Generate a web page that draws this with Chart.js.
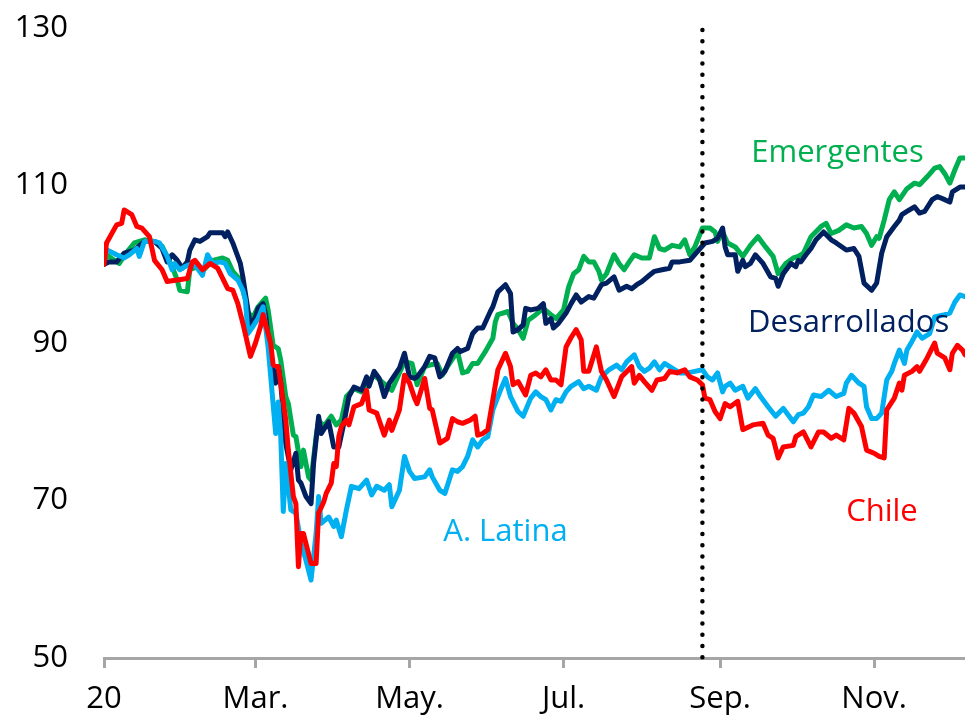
<!DOCTYPE html>
<html>
<head>
<meta charset="utf-8">
<script src="https://cdn.jsdelivr.net/npm/chart.js@4.4.1/dist/chart.umd.min.js"></script>
<style>
  html, body { margin: 0; padding: 0; background: #fff; }
  canvas { display: block; }
</style>
</head>
<body>
<canvas id="grafico" width="965" height="718"></canvas>
<script>
// dias desde el 1 de enero de 2020 y nivel del indice (base 100)
const diasTicks = [0, 60, 121, 182, 244, 305];
const etiquetasX = ['20', 'Mar.', 'May.', 'Jul.', 'Sep.', 'Nov.'];
const ticksY = [50, 70, 90, 110, 130];
const diaMarca = 237; // linea punteada vertical

const chile = [[0,100],[1,102.7],[5,105],[7,105.2],[8,106.9],[11,106.3],[13,104.8],[15,104.6],[18,103.5],[20,100.5],[23,99.3],[25,97.8],[29,98],[33,98.2],[35,100.3],[36,100.5],[39,99.3],[42,100.1],[45,99.5],[49,96.9],[51,96.7],[53,95],[55,92.5],[58,88.3],[60,90],[62,92.1],[63,93.6],[66,90],[67,87.2],[69,87],[70,84.9],[72,80.2],[73,76.4],[75,70.5],[76,69.6],[77,61.6],[78,65.8],[79,65.8],[82,62],[84,62],[85,68.4],[87,69.8],[88,70.9],[90,72.2],[91,74.7],[92,74.3],[93,78.1],[94,79.4],[96,80.2],[97,79.6],[99,81.9],[102,82.3],[104,84],[105,81.5],[108,81.1],[111,78.3],[113,80.2],[114,78.9],[117,81.5],[119,85.9],[121,84.9],[123,83],[124,82.3],[127,85.5],[129,81.7],[130,81.5],[133,77.3],[136,77.9],[138,80.4],[140,80],[142,79.8],[145,80.2],[147,80.7],[148,78.3],[150,78.5],[152,79],[154,82.8],[156,86.6],[159,88.7],[161,87],[162,84.7],[164,85.1],[167,83.4],[169,85.9],[171,86.2],[173,85.7],[175,86.6],[177,85.3],[179,85.3],[181,84.7],[183,89.5],[185,90.7],[187,91.7],[189,90.4],[190,86.4],[192,86.4],[195,89.5],[197,86.4],[199,85.3],[202,83.2],[205,85.7],[209,87],[210,84.9],[212,85.9],[214,85.1],[217,84],[219,85.3],[222,85.5],[224,86.4],[227,86.2],[230,86.6],[232,85.7],[235,85.3],[237,84.7],[238,83],[240,82.8],[242,81.3],[244,80.4],[246,82.3],[248,81.9],[251,82.6],[253,79],[257,79.6],[261,79.8],[263,78.3],[265,77.9],[267,75.4],[269,76.8],[273,77],[274,78.1],[277,78.7],[280,76.8],[283,78.7],[285,78.7],[288,77.9],[290,78.3],[293,77.7],[295,81.7],[297,81.1],[300,79.4],[302,76.4],[305,76],[307,75.6],[309,75.4],[310,81.5],[313,83],[315,84.9],[316,84],[317,85.9],[320,86.4],[322,87],[323,86.4],[326,88.1],[329,90],[330,88.7],[333,88.1],[335,86.6],[336,88.7],[338,89.7],[340,89.1],[341,88.5]];

const latina = [[0,102],[5,101.2],[8,100.8],[10,101.2],[13,102],[14,101],[16,102.9],[20,102.9],[22,102.7],[24,101.6],[25,101],[27,99.3],[28,100.1],[30,99.3],[32,99.7],[35,100.1],[37,99.5],[39,98.6],[41,101.2],[43,100.1],[46,100.3],[48,100.1],[50,98.8],[53,98],[55,96.7],[56,95.5],[57,91.2],[59,92.1],[61,93.1],[63,94.6],[65,89.5],[68,78.5],[69,82.5],[70,78.1],[71,68.6],[72,74.7],[74,68.8],[76,68.4],[78,64.6],[80,62.4],[82,59.9],[84,65.8],[85,70.5],[86,67.1],[89,67.9],[91,66.7],[92,67.5],[94,65.4],[96,68.8],[98,71.8],[101,71.5],[104,72.6],[106,70.7],[108,71.8],[111,71.3],[113,72],[114,69.2],[117,71.3],[119,75.6],[121,73.7],[123,72.8],[127,73],[129,73.9],[130,73],[133,71.3],[135,70.9],[138,73.9],[140,73.7],[142,74.3],[144,75.6],[146,77.7],[148,76.8],[150,77.7],[152,78.1],[154,81.5],[157,84],[159,85.5],[161,83.2],[164,81.3],[166,80.7],[169,83],[171,83.8],[173,83.2],[175,82.8],[177,81.5],[179,82.8],[181,82.6],[183,83.8],[185,84.5],[188,85.1],[190,84.2],[192,84.5],[195,84],[197,85.7],[200,86.6],[203,87.2],[205,86.6],[207,87.6],[210,88.5],[212,87],[214,86.4],[216,86.8],[218,87.6],[220,86.6],[222,87.4],[225,86.8],[228,86.2],[231,86.2],[234,86.4],[237,86.6],[239,85.7],[241,85.3],[243,86.2],[245,83.8],[246,84.5],[248,84.9],[250,84],[253,84.5],[255,83],[258,84.2],[260,83.2],[263,81.9],[266,80.7],[269,81.7],[273,80],[275,80.9],[277,81.1],[279,81.9],[281,83.4],[284,83.2],[287,84],[290,83.2],[293,83.6],[294,84.9],[296,85.9],[299,84.9],[301,84.5],[302,81.9],[304,80.4],[306,80.4],[308,81.1],[310,85.3],[312,86.4],[313,87.4],[315,89.1],[317,87.4],[318,89.1],[320,90.2],[322,91.4],[324,90.6],[327,91.2],[329,93.3],[333,93.6],[335,93.8],[337,95.2],[339,96.1],[341,95.9]];

const emergentes = [[0,100],[1,101.2],[6,100.1],[9,101.5],[12,102.7],[16,103.1],[20,102.9],[23,102.3],[25,101],[27,99.7],[29,98],[30,96.7],[33,96.5],[34,99.3],[37,99.7],[39,99.1],[43,100.5],[47,100.8],[49,100.5],[51,99.1],[54,98],[56,95.5],[57,93.8],[59,93.3],[61,94.6],[64,95.7],[65,94.2],[67,89.7],[69,89.3],[70,87.8],[72,83.2],[73,82.3],[75,78.3],[76,78.1],[78,74.3],[79,76.4],[81,73],[82,72.6],[84,78.1],[85,80.2],[87,79.4],[90,80.7],[92,79.6],[94,80.2],[96,83.2],[99,84.2],[102,83.8],[104,84.9],[107,85.9],[110,85.1],[114,84],[117,86.2],[119,87.6],[122,87.4],[124,84.7],[127,87],[129,87.2],[132,87.4],[134,85.9],[136,87],[140,88.9],[142,86.2],[144,86.4],[146,87.4],[148,87.4],[151,88.9],[154,90.6],[155,92.7],[156,93.6],[160,94],[162,92.5],[164,91.7],[166,90.6],[168,92.9],[171,93.6],[174,94.4],[177,93.6],[179,93.1],[182,94.2],[184,97.1],[186,98.8],[188,99.3],[190,101],[192,100.3],[194,100.3],[196,99.1],[197,98],[199,98.8],[202,101.2],[204,100.1],[206,99.3],[208,100.3],[210,101.2],[213,100.8],[216,100.8],[218,103.5],[220,102],[222,101.8],[225,102.4],[228,102.2],[230,103.1],[232,101.2],[234,102.2],[237,104.6],[240,104.6],[242,104.1],[243,102.9],[245,104.1],[247,102.7],[250,102.2],[253,101],[256,102.4],[259,103.5],[262,102.2],[265,101],[267,98.8],[270,100.1],[273,100.8],[275,101],[277,101.4],[280,103.5],[284,104.8],[286,105.2],[288,103.9],[291,104.3],[294,105],[297,104.6],[300,104.8],[302,103.9],[304,102.4],[306,103.5],[307,103.3],[309,105.6],[311,108.2],[313,109.2],[315,108.2],[318,109.6],[321,110.3],[323,110.1],[326,111.1],[329,112.2],[331,112.4],[333,111.5],[335,110.3],[337,112],[339,113.5],[341,113.5]];

const desarrollados = [[0,100],[2,100.3],[5,100.3],[8,101.4],[12,101.8],[16,102.9],[20,102.9],[23,102],[25,100.3],[27,101.2],[29,100.5],[31,99.5],[33,100.3],[34,101.8],[36,103.1],[38,102.9],[41,103.5],[42,104],[47,104],[48,103.5],[49,104.1],[51,102.7],[54,100.1],[55,98.4],[57,94.2],[58,92.1],[60,93.3],[61,94.4],[63,95],[64,93.6],[66,87.8],[68,84.9],[69,87],[70,84.9],[72,77.2],[74,73.9],[76,76],[77,72.6],[78,72.2],[80,70.5],[82,69.6],[83,74.7],[85,80.7],[86,78.5],[89,80],[91,76.8],[93,76.8],[95,79.8],[97,83.2],[99,84.4],[102,84],[104,85.7],[105,84.5],[107,86.4],[109,85.5],[111,83.2],[113,84.9],[117,86.8],[119,88.7],[121,85.7],[123,85.5],[124,85.7],[127,87],[129,88.3],[131,88.1],[133,85.7],[135,86.4],[138,88.7],[140,89.3],[141,88.9],[144,89.3],[146,91.2],[148,91.9],[150,91.9],[153,94],[154,94.6],[156,96.5],[159,97.4],[161,96.3],[162,91.4],[164,91.7],[166,92.3],[167,94.4],[169,94.2],[172,94.4],[174,95],[175,92.5],[177,93.1],[178,91.9],[180,92.5],[183,93.8],[185,95],[187,96.1],[189,95.2],[192,95.9],[194,95.7],[197,97.4],[199,97.6],[202,98.4],[204,96.7],[207,97.2],[209,96.9],[211,97.4],[213,97.8],[216,98.6],[218,99.1],[221,99.3],[224,99.5],[225,100.3],[228,100.3],[232,100.5],[235,101.6],[238,102.7],[241,102.9],[243,103.3],[245,104.6],[246,102.2],[247,101.2],[250,101.2],[251,99.1],[253,100.5],[254,99.7],[256,100.1],[258,101.2],[261,100.1],[264,98.4],[266,98.2],[267,97.2],[269,98.8],[272,100.1],[274,99.7],[275,100.5],[276,100.3],[278,101.2],[280,102],[282,103.1],[285,104.1],[288,103.1],[290,102.7],[294,101.8],[297,102],[299,101],[301,97.6],[304,96.7],[306,97.6],[308,101.4],[310,103.5],[313,104.8],[315,105.6],[316,106.3],[318,106.7],[321,107.3],[323,106.5],[325,106.7],[328,108.2],[330,108.6],[333,108.2],[335,107.9],[336,109.2],[339,109.8],[341,109.8]];

const FUENTE = '"Open Sans", "Liberation Sans", sans-serif';
const GRIS = '#A6A6A6';

// nombres de las series escritos dentro del grafico (centro x en dias, linea base en indice)
const rotulos = [
    { texto: 'Emergentes', color: '#00B050', dia: 290.5, valor: 113.0 },
    { texto: 'Desarrollados', color: '#002060', dia: 294.9, valor: 91.4 },
    { texto: 'A. Latina', color: '#00B0F0', dia: 159.0, valor: 64.9 },
    { texto: 'Chile', color: '#FF0000', dia: 308.1, valor: 67.4 }
];

const aPuntos = serie => serie.map(([d, v]) => ({ x: d, y: v }));

const linea = (label, serie, color) => ({
    label: label,
    data: aPuntos(serie),
    borderColor: color,
    backgroundColor: color,
    borderWidth: 5,
    pointRadius: 0,
    tension: 0,
    borderJoinStyle: 'round',
    borderCapStyle: 'round'
});

// linea punteada vertical y rotulos
const extras = {
    id: 'extras',
    afterDatasetsDraw(chart) {
        const { ctx, chartArea, scales } = chart;
        const x = scales.x.getPixelForValue(diaMarca);
        ctx.save();
        ctx.strokeStyle = '#000';
        ctx.lineWidth = 4.5;
        ctx.lineCap = 'round';
        ctx.setLineDash([0, 11.2]);
        ctx.beginPath();
        ctx.moveTo(x, chartArea.top + 2);
        ctx.lineTo(x, chartArea.bottom + 4);
        ctx.stroke();
        ctx.setLineDash([]);

        ctx.font = '31px ' + FUENTE;
        ctx.textAlign = 'center';
        ctx.textBaseline = 'alphabetic';
        rotulos.forEach(r => {
            ctx.fillStyle = r.color;
            ctx.fillText(r.texto, scales.x.getPixelForValue(r.dia), scales.y.getPixelForValue(r.valor));
        });
        ctx.restore();
    }
};

new Chart(document.getElementById('grafico').getContext('2d'), {
    type: 'line',
    data: {
        datasets: [
            linea('Chile', chile, '#FF0000'),
            linea('A. Latina', latina, '#00B0F0'),
            linea('Desarrollados', desarrollados, '#002060'),
            linea('Emergentes', emergentes, '#00B050')
        ]
    },
    options: {
        responsive: false,
        animation: false,
        devicePixelRatio: 1,
        layout: { padding: { top: 28, right: 0, bottom: 0, left: 0 } },
        plugins: {
            legend: { display: false },
            tooltip: { enabled: false }
        },
        scales: {
            x: {
                type: 'linear',
                min: 0,
                max: 341,
                afterBuildTicks: s => { s.ticks = diasTicks.map(v => ({ value: v })); },
                afterFit: s => { s.height = 60; s.paddingLeft = 0; s.paddingRight = 0; },
                ticks: {
                    autoSkip: false,
                    maxRotation: 0,
                    padding: 13,
                    color: '#000',
                    font: { family: FUENTE, size: 31 },
                    callback: (v, i) => etiquetasX[i]
                },
                grid: {
                    drawOnChartArea: false,
                    drawTicks: true,
                    tickLength: 10,
                    tickWidth: 3,
                    tickColor: GRIS
                },
                border: { display: true, color: GRIS, width: 3 }
            },
            y: {
                min: 50,
                max: 130,
                afterBuildTicks: s => { s.ticks = ticksY.map(v => ({ value: v })); },
                afterFit: s => { s.width = 104; s.paddingTop = 0; s.paddingBottom = 0; },
                ticks: {
                    padding: 36,
                    color: '#000',
                    font: { family: FUENTE, size: 31 }
                },
                grid: { display: false, drawTicks: false },
                border: { display: false }
            }
        }
    },
    plugins: [extras]
});
</script>
</body>
</html>
